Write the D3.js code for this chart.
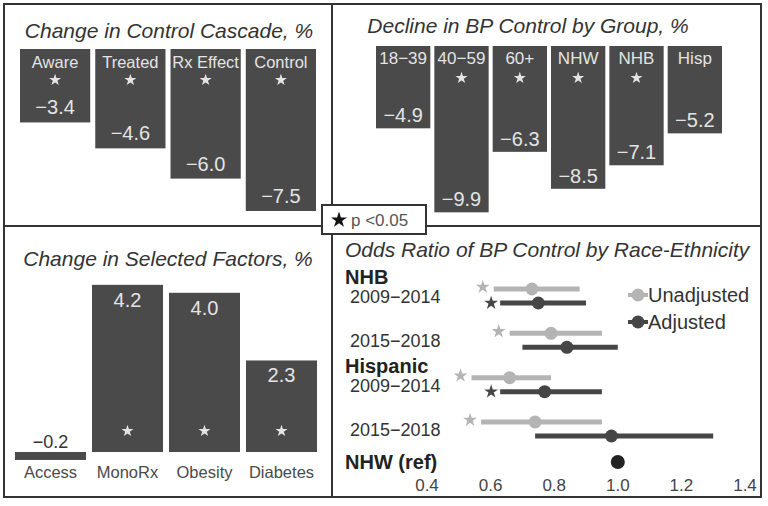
<!DOCTYPE html>
<html>
<head>
<meta charset="utf-8">
<script src="https://cdn.jsdelivr.net/npm/d3@7"></script>
<style>
  body { margin: 0; background: #fff; }
  svg { display: block; font-family: "Liberation Sans", Arial, Helvetica, sans-serif; }
</style>
</head>
<body>
<svg id="chart" width="768" height="506"></svg>
<script>
// ---- data ----
var cascadeCats = ["Aware", "Treated", "Rx Effect", "Control"];
var cascadeVals = [-3.4, -4.6, -6.0, -7.5];
var cascadeSig  = [true, true, true, true];

var groupCats = ["18\u221239", "40\u221259", "60+", "NHW", "NHB", "Hisp"];
var groupVals = [-4.9, -9.9, -6.3, -8.5, -7.1, -5.2];
var groupSig  = [false, true, true, true, true, false];

var factorCats = ["Access", "MonoRx", "Obesity", "Diabetes"];
var factorVals = [-0.2, 4.2, 4.0, 2.3];
var factorSig  = [false, true, true, true];

// odds ratios: [lower, estimate, upper]
var orHeaders = ["NHB", "Hispanic"];
var orLabels  = ["2009\u22122014", "2015\u22122018", "2009\u22122014", "2015\u22122018"];
var orUnadj   = [[0.61, 0.73, 0.88], [0.66, 0.79, 0.95], [0.54, 0.66, 0.79], [0.57, 0.74, 0.95]];
var orAdj     = [[0.63, 0.75, 0.90], [0.70, 0.84, 1.00], [0.63, 0.77, 0.95], [0.74, 0.98, 1.30]];
var orUnadjSig = [true, true, true, true];
var orAdjSig   = [true, false, true, false];
var orTicks = [0.4, 0.6, 0.8, 1.0, 1.2, 1.4];
var refLabel = "NHW (ref)";
var refOR = 1.0;

var fmt = function(v) { return (v < 0 ? "\u2212" : "") + Math.abs(v).toFixed(1); };
var star = function(size) { return d3.symbol(d3.symbolStar, size)(); };

var svg = d3.select('#chart');
var barFill = '#4a4a4a', barText = '#e4e4e4', ink = '#333', light = '#b4b4b4', dark = '#464646';

// ---- frame ----
svg.append('rect')
  .attr('x', 4).attr('y', 4).attr('width', 757).attr('height', 493)
  .attr('fill', 'none').attr('stroke', ink).attr('stroke-width', 2);
svg.append('line').attr('x1', 332).attr('x2', 332).attr('y1', 4).attr('y2', 497)
  .attr('stroke', ink).attr('stroke-width', 2);
svg.append('line').attr('x1', 4).attr('x2', 761).attr('y1', 226).attr('y2', 226)
  .attr('stroke', ink).attr('stroke-width', 2);

function title(text, x, y, anchor) {
  svg.append('text')
    .attr('x', x).attr('y', y)
    .attr('text-anchor', anchor || 'middle')
    .attr('font-size', 21).attr('font-style', 'italic')
    .attr('fill', ink)
    .text(text);
}

// hanging bars for the two top panels
function downBars(cats, vals, sig, o) {
  var x = d3.scaleBand().domain(cats).range(o.xRange).paddingInner(o.pad);
  var y = d3.scaleLinear().domain(o.yDomain).range(o.yRange);
  var g = svg.append('g');
  var bar = g.selectAll('g.bar').data(cats).enter().append('g').attr('class', 'bar');
  bar.append('rect')
    .attr('x', function(d) { return x(d); })
    .attr('y', y(0))
    .attr('width', x.bandwidth())
    .attr('height', function(d, i) { return y(vals[i]) - y(0); })
    .attr('fill', barFill);
  bar.append('text')
    .attr('x', function(d) { return x(d) + x.bandwidth() / 2; })
    .attr('y', y(0) + o.catDy)
    .attr('text-anchor', 'middle').attr('font-size', o.catSize).attr('fill', barText)
    .text(function(d) { return d; });
  bar.filter(function(d, i) { return sig[i]; }).append('path')
    .attr('transform', function(d) { return 'translate(' + (x(d) + x.bandwidth() / 2) + ',' + (y(0) + o.starDy) + ')'; })
    .attr('d', star(45)).attr('fill', barText);
  bar.append('text')
    .attr('x', function(d) { return x(d) + x.bandwidth() / 2; })
    .attr('y', function(d, i) { return y(vals[i]) - o.valDy; })
    .attr('text-anchor', 'middle').attr('font-size', 20).attr('fill', barText)
    .text(function(d, i) { return fmt(vals[i]); });
}

// ---- top left ----
title("Change in Control Cascade, %", 169, 38);
downBars(cascadeCats, cascadeVals, cascadeSig, {
  xRange: [20, 316], pad: 0.067, yDomain: [0, -8], yRange: [49, 49 + 8 * 21.6],
  catDy: 19, catSize: 16.5, starDy: 31, valDy: 8
});

// ---- top right ----
title("Decline in BP Control by Group, %", 528, 33);
downBars(groupCats, groupVals, groupSig, {
  xRange: [376, 722], pad: 0.069, yDomain: [0, -10], yRange: [46, 46 + 10 * 16.8],
  catDy: 18, catSize: 17, starDy: 32, valDy: 6
});

// ---- bottom left ----
title("Change in Selected Factors, %", 168, 266);
(function() {
  var x = d3.scaleBand().domain(factorCats).range([15, 317]).paddingInner(0.078);
  var y = d3.scaleLinear().domain([0, 4.2]).range([452, 452 - 4.2 * 39.8]);
  var bar = svg.append('g').selectAll('g').data(factorCats).enter().append('g');
  bar.append('rect')
    .attr('x', function(d) { return x(d); })
    .attr('y', function(d, i) { return Math.min(y(0), y(factorVals[i])); })
    .attr('width', x.bandwidth())
    .attr('height', function(d, i) { return Math.abs(y(factorVals[i]) - y(0)); })
    .attr('fill', barFill);
  bar.append('text')
    .attr('x', function(d) { return x(d) + x.bandwidth() / 2; })
    .attr('y', function(d, i) { return factorVals[i] >= 0 ? y(factorVals[i]) + 22 : y(0) - 4; })
    .attr('text-anchor', 'middle')
    .attr('font-size', function(d, i) { return factorVals[i] >= 0 ? 20 : 18; })
    .attr('fill', function(d, i) { return factorVals[i] >= 0 ? barText : ink; })
    .text(function(d, i) { return fmt(factorVals[i]); });
  bar.filter(function(d, i) { return factorSig[i]; }).append('path')
    .attr('transform', function(d) { return 'translate(' + (x(d) + x.bandwidth() / 2) + ',' + (y(0) - 21) + ')'; })
    .attr('d', star(45)).attr('fill', barText);
  bar.append('text')
    .attr('x', function(d) { return x(d) + x.bandwidth() / 2; })
    .attr('y', 478)
    .attr('text-anchor', 'middle').attr('font-size', 16.5).attr('fill', '#4a4a4a')
    .text(function(d) { return d; });
})();

// ---- bottom right ----
title("Odds Ratio of BP Control by Race-Ethnicity", 345, 257, 'start');
(function() {
  var x = d3.scaleLinear().domain([0.4, 1.4]).range([427, 745]);
  var rows = d3.scalePoint().domain(d3.range(orLabels.length)).range([296, 429]);
  var g = svg.append('g');
  var off = 7;

  g.selectAll('text.hdr').data(orHeaders).enter().append('text')
    .attr('class', 'hdr')
    .attr('x', 345).attr('y', function(d, i) { return rows(i * 2) - 19 + 7; })
    .attr('font-size', 20).attr('font-weight', 'bold').attr('fill', '#222')
    .text(function(d) { return d; });
  g.selectAll('text.row').data(orLabels).enter().append('text')
    .attr('class', 'row')
    .attr('x', 350).attr('y', function(d, i) { return rows(i) + 7; })
    .attr('font-size', 18).attr('fill', ink)
    .text(function(d) { return d; });

  function series(data, sig, dy, color, starDx) {
    var s = g.append('g');
    s.selectAll('line').data(data).enter().append('line')
      .attr('x1', function(d) { return x(d[0]); })
      .attr('x2', function(d) { return x(d[2]); })
      .attr('y1', function(d, i) { return rows(i) + dy; })
      .attr('y2', function(d, i) { return rows(i) + dy; })
      .attr('stroke', color).attr('stroke-width', 5);
    s.selectAll('circle').data(data).enter().append('circle')
      .attr('cx', function(d) { return x(d[1]); })
      .attr('cy', function(d, i) { return rows(i) + dy; })
      .attr('r', 6.5).attr('fill', color);
    s.selectAll('path').data(data.filter(function(d, i) { return sig[i]; })).enter().append('path')
      .attr('transform', function(d) {
        return 'translate(' + (x(d[0]) - starDx) + ',' + (rows(data.indexOf(d)) + dy + (dy < 0 ? -2 : 0)) + ')';
      })
      .attr('d', star(60)).attr('fill', color);
  }
  series(orUnadj, orUnadjSig, -off, light, 11);
  series(orAdj, orAdjSig, off, dark, 9);

  // reference
  var refY = rows(orLabels.length - 1) + 33;
  g.append('text').attr('x', 345).attr('y', refY + 7)
    .attr('font-size', 20).attr('font-weight', 'bold').attr('fill', '#222')
    .text(refLabel);
  g.append('circle').attr('cx', x(refOR)).attr('cy', refY).attr('r', 7).attr('fill', '#222');

  // ticks
  g.selectAll('text.tick').data(orTicks).enter().append('text')
    .attr('class', 'tick')
    .attr('x', function(d) { return x(d); }).attr('y', 491)
    .attr('text-anchor', 'middle').attr('font-size', 17).attr('fill', '#444')
    .text(function(d) { return d.toFixed(1); });

  // legend
  var leg = g.selectAll('g.leg').data([["Unadjusted", light], ["Adjusted", dark]]).enter()
    .append('g').attr('class', 'leg')
    .attr('transform', function(d, i) { return 'translate(638,' + (295 + i * 27) + ')'; });
  leg.append('line').attr('x1', -10).attr('x2', 10)
    .attr('stroke', function(d) { return d[1]; }).attr('stroke-width', 4);
  leg.append('circle').attr('r', 6.5).attr('fill', function(d) { return d[1]; });
  leg.append('text').attr('x', 10).attr('y', 7)
    .attr('font-size', 20).attr('fill', ink)
    .text(function(d) { return d[0]; });
})();

// ---- significance key ----
svg.append('rect')
  .attr('x', 322).attr('y', 205).attr('width', 104).attr('height', 29)
  .attr('fill', '#fff').attr('stroke', ink).attr('stroke-width', 2);
svg.append('path')
  .attr('transform', 'translate(339,220)')
  .attr('d', star(80)).attr('fill', '#111');
svg.append('text').attr('x', 351).attr('y', 226)
  .attr('font-size', 17).attr('fill', '#555')
  .text('p <0.05');
</script>
</body>
</html>
